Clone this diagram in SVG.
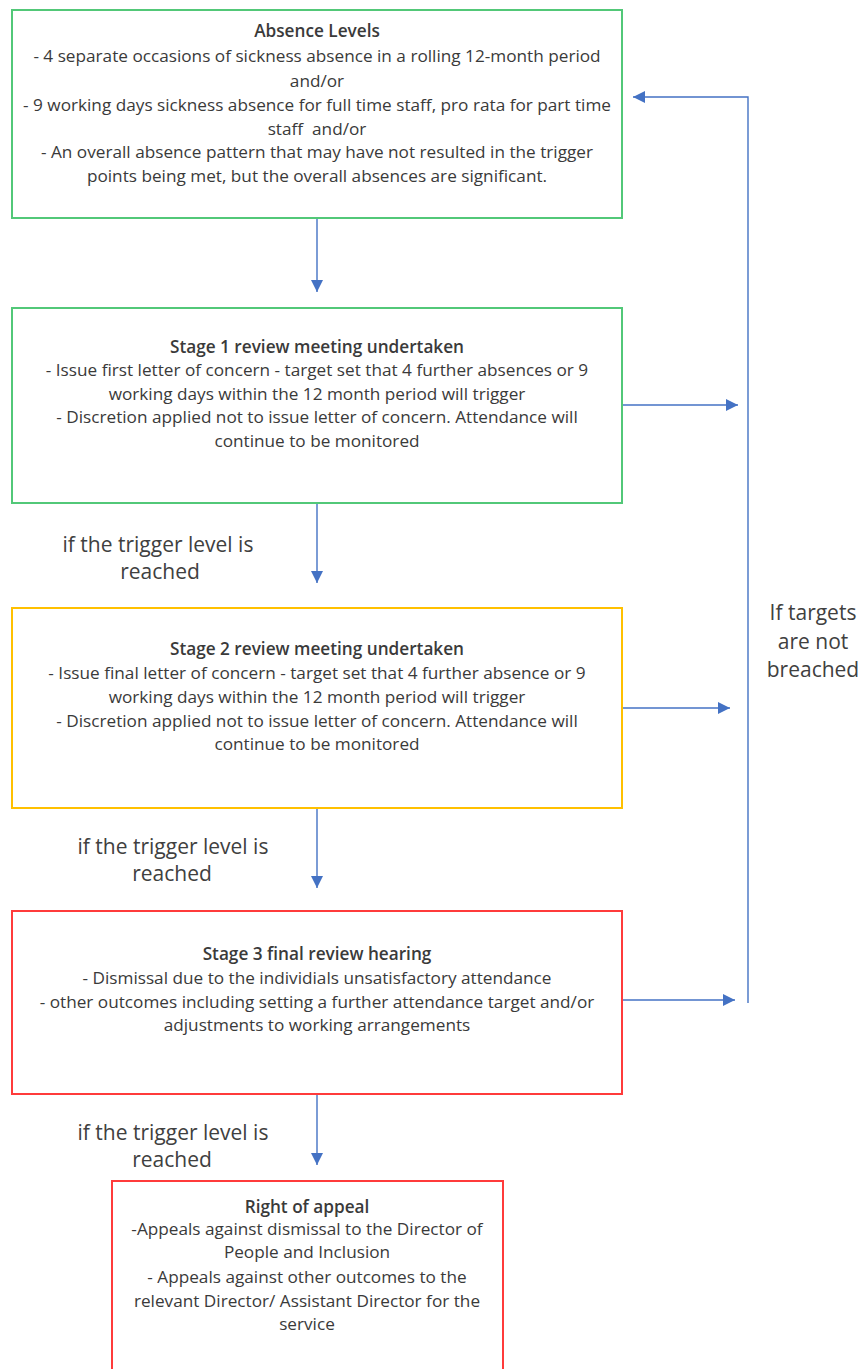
<svg xmlns="http://www.w3.org/2000/svg" width="863" height="1369" viewBox="0 0 863 1369">
<defs>
<style>
.box{fill:#fff;stroke-width:2}
.g{stroke:#52C878}
.y{stroke:#FFC000}
.r{stroke:#FF3B3B}
.t{font-family:"Open Sans","Liberation Sans",sans-serif;font-size:17.2px;fill:#3a3a3a;text-anchor:middle}
.b{font-weight:600}
.lbl{font-family:"Open Sans","Liberation Sans",sans-serif;font-size:21px;fill:#404040;text-anchor:middle}
.c{fill:none;stroke:#4472C4;stroke-width:1.4}
</style>
<marker id="ah2" viewBox="0 0 10 10" refX="10" refY="5" markerWidth="12" markerHeight="12" markerUnits="userSpaceOnUse" orient="auto">
<path d="M0,0 L10,5 L0,10 z" fill="#4472C4"/>
</marker>
</defs>
<rect width="863" height="1369" fill="#fff"/>
<g id="connectors">
<line class="c" x1="317" y1="218" x2="317" y2="292" marker-end="url(#ah2)"/>
<line class="c" x1="317" y1="503" x2="317" y2="583" marker-end="url(#ah2)"/>
<line class="c" x1="317" y1="808" x2="317" y2="888" marker-end="url(#ah2)"/>
<line class="c" x1="317" y1="1094" x2="317" y2="1165" marker-end="url(#ah2)"/>
<line class="c" x1="622" y1="405" x2="738" y2="405" marker-end="url(#ah2)"/>
<line class="c" x1="622" y1="708" x2="730" y2="708" marker-end="url(#ah2)"/>
<line class="c" x1="622" y1="1000" x2="735" y2="1000" marker-end="url(#ah2)"/>
<polyline class="c" points="748,1003 748,97 633,97" marker-end="url(#ah2)"/>
</g>
<g id="absence-levels">
<rect class="box g" x="12" y="10" width="610" height="208"/>
<text class="t b" x="317" y="37">Absence Levels</text>
<text class="t" x="317" y="62">- 4 separate occasions of sickness absence in a rolling 12-month period</text>
<text class="t" x="317" y="87">and/or</text>
<text class="t" x="317" y="111">- 9 working days sickness absence for full time staff, pro rata for part time</text>
<text class="t" x="317" y="135" xml:space="preserve">staff  and/or</text>
<text class="t" x="317" y="158">- An overall absence pattern that may have not resulted in the trigger</text>
<text class="t" x="317" y="182">points being met, but the overall absences are significant.</text>
</g>
<g id="stage1">
<rect class="box g" x="12" y="308" width="610" height="195"/>
<text class="t b" x="317" y="353">Stage 1 review meeting undertaken</text>
<text class="t" x="317" y="376">- Issue first letter of concern - target set that 4 further absences or 9</text>
<text class="t" x="317" y="400">working days within the 12 month period will trigger</text>
<text class="t" x="317" y="423">- Discretion applied not to issue letter of concern. Attendance will</text>
<text class="t" x="317" y="447">continue to be monitored</text>
</g>
<g id="label1">
<text class="lbl" x="158" y="552">if the trigger level is</text>
<text class="lbl" x="160" y="579">reached</text>
</g>
<g id="stage2">
<rect class="box y" x="12" y="608" width="610" height="200"/>
<text class="t b" x="317" y="655">Stage 2 review meeting undertaken</text>
<text class="t" x="317" y="679">- Issue final letter of concern - target set that 4 further absence or 9</text>
<text class="t" x="317" y="703">working days within the 12 month period will trigger</text>
<text class="t" x="317" y="727">- Discretion applied not to issue letter of concern. Attendance will</text>
<text class="t" x="317" y="750">continue to be monitored</text>
</g>
<g id="label2">
<text class="lbl" x="173" y="854">if the trigger level is</text>
<text class="lbl" x="172" y="881">reached</text>
</g>
<g id="stage3">
<rect class="box r" x="12" y="911" width="610" height="183"/>
<text class="t b" x="317" y="960">Stage 3 final review hearing</text>
<text class="t" x="317" y="984">- Dismissal due to the individials unsatisfactory attendance</text>
<text class="t" x="317" y="1008">- other outcomes including setting a further attendance target and/or</text>
<text class="t" x="317" y="1031">adjustments to working arrangements</text>
</g>
<g id="label3">
<text class="lbl" x="173" y="1140">if the trigger level is</text>
<text class="lbl" x="172" y="1167">reached</text>
</g>
<g id="appeal">
<rect class="box r" x="112" y="1181" width="391" height="200"/>
<text class="t b" x="307" y="1213">Right of appeal</text>
<text class="t" x="307" y="1235">-Appeals against dismissal to the Director of</text>
<text class="t" x="307" y="1258">People and Inclusion</text>
<text class="t" x="307" y="1283">- Appeals against other outcomes to the</text>
<text class="t" x="307" y="1307">relevant Director/ Assistant Director for the</text>
<text class="t" x="307" y="1330">service</text>
</g>
<g id="targets-label">
<text class="lbl" x="813" y="620">If targets</text>
<text class="lbl" x="813" y="649">are not</text>
<text class="lbl" x="813" y="677">breached</text>
</g>
</svg>
